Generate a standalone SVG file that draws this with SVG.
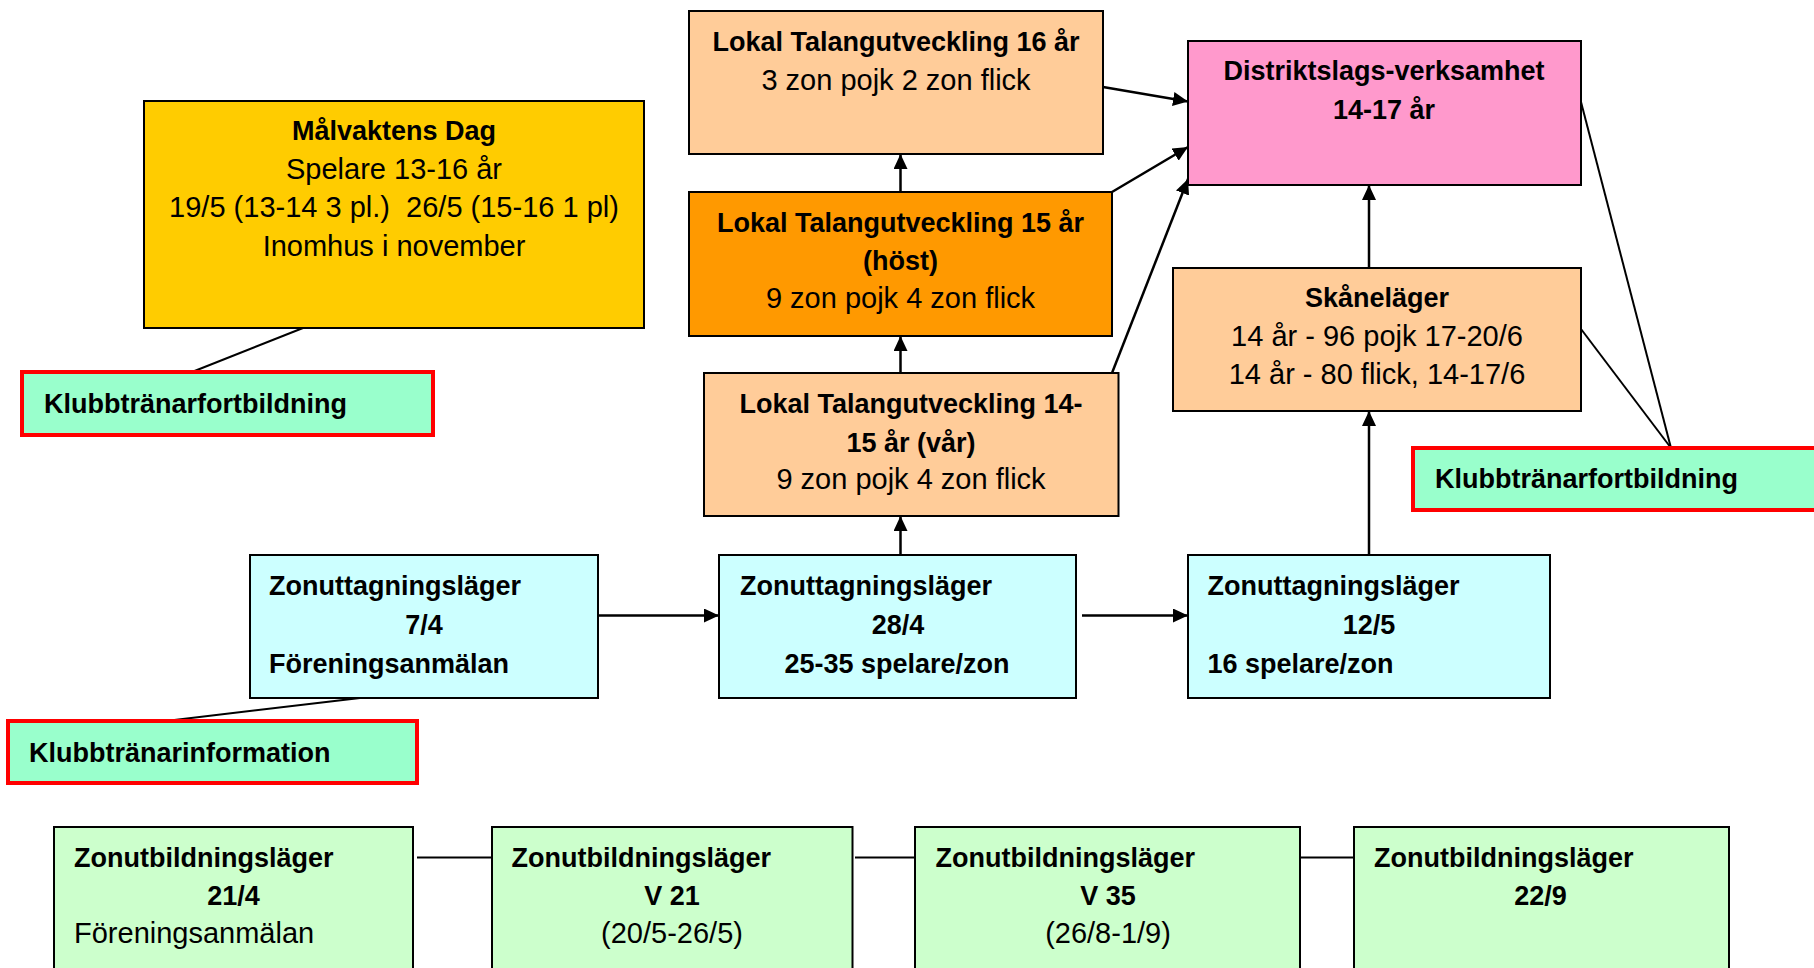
<svg xmlns="http://www.w3.org/2000/svg" width="1814" height="968" viewBox="0 0 1814 968">
<defs>
<style>
.box{stroke:#000;stroke-width:2}
.kt{fill:#99FFCC;stroke:#FF0000;stroke-width:4}
.b{font-family:"Liberation Sans",Arial,sans-serif;font-weight:bold;font-size:27px;fill:#000}
.r{font-family:"Liberation Sans",Arial,sans-serif;font-size:29px;fill:#000}
.c{text-anchor:middle}
.ln{stroke:#000;stroke-width:2.5;fill:none}
.thin{stroke:#000;stroke-width:2;fill:none}
</style>
<marker id="ah" viewBox="0 0 15 14" refX="15" refY="7" markerWidth="15" markerHeight="14" markerUnits="userSpaceOnUse" orient="auto">
<path d="M0,0 L15,7 L0,14 z" fill="#000"/>
</marker>
</defs>
<rect width="1814" height="968" fill="#fff"/>

<g id="connectors">
<line class="thin" x1="303" y1="328" x2="192" y2="372"/>
<line class="thin" x1="360" y1="698" x2="166" y2="721"/>
<line class="thin" x1="1671" y1="448" x2="1581" y2="102"/>
<line class="thin" x1="1671" y1="448" x2="1581" y2="329"/>
<line class="ln" x1="598" y1="615.5" x2="719" y2="615.5" marker-end="url(#ah)"/>
<line class="ln" x1="1082" y1="615.5" x2="1188" y2="615.5" marker-end="url(#ah)"/>
<line class="ln" x1="900.5" y1="555" x2="900.5" y2="516" marker-end="url(#ah)"/>
<line class="ln" x1="900.5" y1="373" x2="900.5" y2="336" marker-end="url(#ah)"/>
<line class="ln" x1="900.5" y1="192" x2="900.5" y2="154" marker-end="url(#ah)"/>
<line class="ln" x1="1103" y1="87" x2="1188" y2="101.5" marker-end="url(#ah)"/>
<line class="ln" x1="1112" y1="192" x2="1188" y2="147" marker-end="url(#ah)"/>
<line class="ln" x1="1112" y1="373" x2="1188" y2="179" marker-end="url(#ah)"/>
<line class="ln" x1="1369" y1="268" x2="1369" y2="185" marker-end="url(#ah)"/>
<line class="ln" x1="1369" y1="555" x2="1369" y2="411" marker-end="url(#ah)"/>
<line class="thin" x1="417" y1="857.5" x2="492" y2="857.5"/>
<line class="thin" x1="855" y1="857.5" x2="915" y2="857.5"/>
<line class="thin" x1="1294" y1="857.5" x2="1354" y2="857.5"/>
</g>

<g id="malvaktens-dag">
<rect class="box" x="144" y="101" width="500" height="227" fill="#FFCC00"/>
<text class="b c" x="394" y="140">Målvaktens Dag</text>
<text class="r c" x="394" y="178.5">Spelare 13-16 år</text>
<text class="r c" x="394" y="217">19/5 (13-14 3 pl.)&#160; 26/5 (15-16 1 pl)</text>
<text class="r c" x="394" y="255.5">Inomhus i november</text>
</g>

<g id="lokal-16">
<rect class="box" x="689" y="11" width="414" height="143" fill="#FFCC99"/>
<text class="b c" x="896" y="51">Lokal Talangutveckling 16 år</text>
<text class="r c" x="896" y="89.5">3 zon pojk 2 zon flick</text>
</g>

<g id="lokal-15">
<rect class="box" x="689" y="192" width="423" height="144" fill="#FF9900"/>
<text class="b c" x="900.5" y="231.5">Lokal Talangutveckling 15 år</text>
<text class="b c" x="900.5" y="270">(höst)</text>
<text class="r c" x="900.5" y="308">9 zon pojk 4 zon flick</text>
</g>

<g id="lokal-14-15">
<rect class="box" x="704" y="373" width="414.5" height="143" fill="#FFCC99"/>
<text class="b c" x="911" y="413">Lokal Talangutveckling 14-</text>
<text class="b c" x="911" y="451.5">15 år (vår)</text>
<text class="r c" x="911" y="488.5">9 zon pojk 4 zon flick</text>
</g>

<g id="distrikt">
<rect class="box" x="1188" y="41" width="393" height="144" fill="#FF99CC"/>
<text class="b c" x="1384" y="80">Distriktslags-verksamhet</text>
<text class="b c" x="1384" y="118.5">14-17 år</text>
</g>

<g id="skanelager">
<rect class="box" x="1173" y="268" width="408" height="143" fill="#FFCC99"/>
<text class="b c" x="1377" y="306.5">Skåneläger</text>
<text class="r c" x="1377" y="345.5">14 år - 96 pojk 17-20/6</text>
<text class="r c" x="1377" y="383.5">14 år - 80 flick, 14-17/6</text>
</g>

<g id="klubb-fortbildning-left">
<rect class="kt" x="22" y="372" width="411" height="63"/>
<text class="b" x="44" y="413">Klubbtränarfortbildning</text>
</g>

<g id="klubb-fortbildning-right">
<rect class="kt" x="1413" y="448" width="420" height="62"/>
<text class="b" x="1435" y="488">Klubbtränarfortbildning</text>
</g>

<g id="klubb-information">
<rect class="kt" x="8" y="721" width="409" height="62"/>
<text class="b" x="29" y="761.5">Klubbtränarinformation</text>
</g>

<g id="zonuttag-7-4">
<rect class="box" x="250" y="555" width="348" height="143" fill="#CCFFFF"/>
<text class="b" x="269" y="595">Zonuttagningsläger</text>
<text class="b c" x="424" y="634">7/4</text>
<text class="b" x="269" y="672.5">Föreningsanmälan</text>
</g>

<g id="zonuttag-28-4">
<rect class="box" x="719" y="555" width="357" height="143" fill="#CCFFFF"/>
<text class="b" x="740" y="595">Zonuttagningsläger</text>
<text class="b c" x="898" y="634">28/4</text>
<text class="b c" x="897" y="672.5">25-35 spelare/zon</text>
</g>

<g id="zonuttag-12-5">
<rect class="box" x="1188" y="555" width="362" height="143" fill="#CCFFFF"/>
<text class="b" x="1207.5" y="595">Zonuttagningsläger</text>
<text class="b c" x="1369" y="634">12/5</text>
<text class="b" x="1207.5" y="672.5">16 spelare/zon</text>
</g>

<g id="zonutb-21-4">
<rect class="box" x="54" y="827" width="359" height="160" fill="#CCFFCC"/>
<text class="b" x="74" y="866.5">Zonutbildningsläger</text>
<text class="b c" x="233.5" y="905">21/4</text>
<text class="r" x="74" y="943">Föreningsanmälan</text>
</g>

<g id="zonutb-v21">
<rect class="box" x="492" y="827" width="360.5" height="160" fill="#CCFFCC"/>
<text class="b" x="511.5" y="866.5">Zonutbildningsläger</text>
<text class="b c" x="672" y="905">V 21</text>
<text class="r c" x="672" y="943">(20/5-26/5)</text>
</g>

<g id="zonutb-v35">
<rect class="box" x="915" y="827" width="385" height="160" fill="#CCFFCC"/>
<text class="b" x="935.5" y="866.5">Zonutbildningsläger</text>
<text class="b c" x="1108" y="905">V 35</text>
<text class="r c" x="1108" y="943">(26/8-1/9)</text>
</g>

<g id="zonutb-22-9">
<rect class="box" x="1354" y="827" width="375" height="160" fill="#CCFFCC"/>
<text class="b" x="1374" y="866.5">Zonutbildningsläger</text>
<text class="b c" x="1540.5" y="905">22/9</text>
</g>
</svg>
